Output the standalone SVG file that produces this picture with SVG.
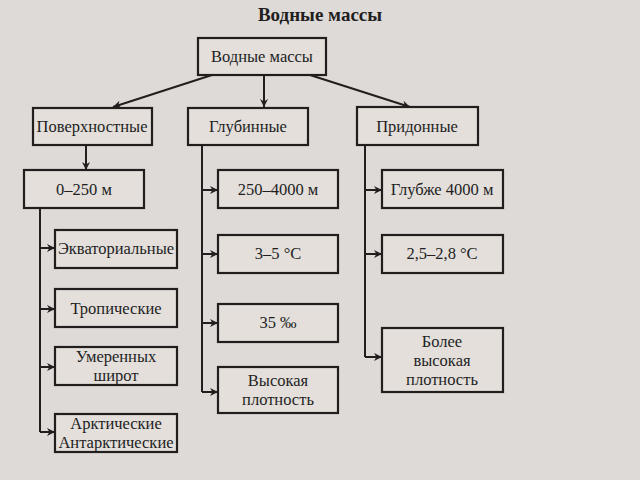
<svg xmlns="http://www.w3.org/2000/svg" width="640" height="480" viewBox="0 0 640 480">
<style>
.b{fill:#e4dfdb;stroke:#221e1e;stroke-width:2.2}
.t{font-family:'Liberation Serif','Times New Roman','DejaVu Serif',serif;font-size:16.5px;fill:#221e1e;text-anchor:middle}
.c{stroke:#221e1e;stroke-width:2;fill:none}
</style>
<defs><marker id="a" viewBox="0 0 10 10" refX="10" refY="5" markerWidth="8" markerHeight="8" orient="auto" markerUnits="userSpaceOnUse"><path d="M0,0L10,5L0,10L3,5z" fill="#221e1e"/></marker></defs>
<rect width="640" height="480" fill="#dedad7"/>
<text x="320" y="21" class="t" style="font-weight:bold;font-size:19px">Водные массы</text>
<g id="connectors" marker-end="url(#a)">
<path class="c" d="M212,75L113,107"/>
<path class="c" d="M264,75L264,107"/>
<path class="c" d="M310,75L410,107"/>
<path class="c" d="M86,145L86,170"/>
<path class="c" d="M40,208V432" marker-end="none"/>
<path class="c" d="M40,248H55"/><path class="c" d="M40,309H55"/><path class="c" d="M40,367H55"/><path class="c" d="M40,432H55"/>
<path class="c" d="M202,145V392" marker-end="none"/>
<path class="c" d="M202,190H218"/><path class="c" d="M202,254H218"/><path class="c" d="M202,323H218"/><path class="c" d="M202,392H218"/>
<path class="c" d="M365,145V357" marker-end="none"/>
<path class="c" d="M365,190H382"/><path class="c" d="M365,254H382"/><path class="c" d="M365,357H382"/>
</g>
<g id="root"><rect class="b" x="198" y="38" width="128" height="37"/><text class="t" x="262" y="62">Водные массы</text></g>
<g id="surf"><rect class="b" x="33" y="108" width="119" height="37"/><text class="t" x="92" y="132">Поверхностные</text></g>
<g id="deep"><rect class="b" x="188" y="108" width="120" height="37"/><text class="t" x="248" y="132">Глубинные</text></g>
<g id="bottom"><rect class="b" x="357" y="107" width="121" height="38"/><text class="t" x="417" y="132">Придонные</text></g>
<g id="s1"><rect class="b" x="24" y="170" width="120" height="38"/><text class="t" x="84" y="195">0–250 м</text></g>
<g id="s2"><rect class="b" x="55" y="230" width="122" height="38"/><text class="t" x="116" y="254">Экваториальные</text></g>
<g id="s3"><rect class="b" x="55" y="289" width="122" height="38"/><text class="t" x="116" y="314">Тропические</text></g>
<g id="s4"><rect class="b" x="55" y="347" width="122" height="38"/><text class="t" x="116" y="362">Умеренных</text><text class="t" x="116" y="381">широт</text></g>
<g id="s5"><rect class="b" x="55" y="414" width="122" height="38"/><text class="t" x="116" y="429">Арктические</text><text class="t" x="116" y="448">Антарктические</text></g>
<g id="d1"><rect class="b" x="218" y="170" width="120" height="38"/><text class="t" x="278" y="195">250–4000 м</text></g>
<g id="d2"><rect class="b" x="218" y="235" width="120" height="38"/><text class="t" x="278" y="259">3–5 °C</text></g>
<g id="d3"><rect class="b" x="218" y="304" width="120" height="38"/><text class="t" x="278" y="328">35 ‰</text></g>
<g id="d4"><rect class="b" x="218" y="367" width="120" height="46"/><text class="t" x="278" y="386">Высокая</text><text class="t" x="278" y="405">плотность</text></g>
<g id="b1"><rect class="b" x="382" y="170" width="121" height="38"/><text class="t" x="442" y="195">Глубже 4000 м</text></g>
<g id="b2"><rect class="b" x="382" y="235" width="121" height="38"/><text class="t" x="442" y="259">2,5–2,8 °C</text></g>
<g id="b3"><rect class="b" x="382" y="328" width="121" height="64"/><text class="t" x="442" y="347">Более</text><text class="t" x="442" y="366">высокая</text><text class="t" x="442" y="385">плотность</text></g>
</svg>
